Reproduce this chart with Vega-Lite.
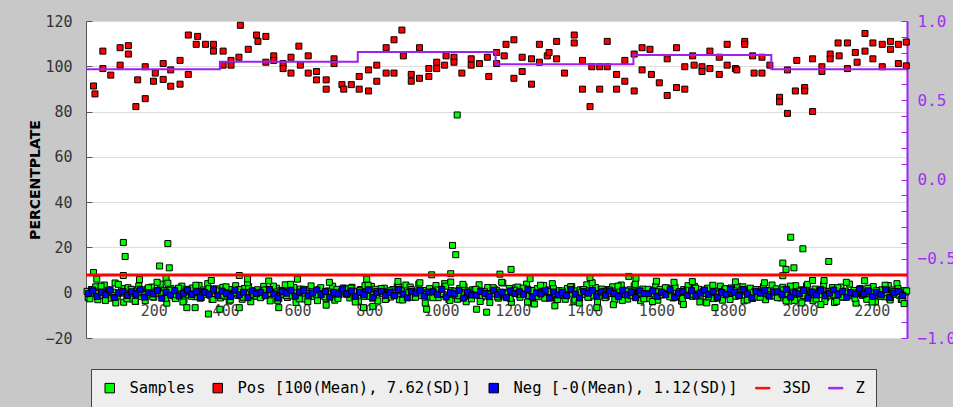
{
"$schema": "https://vega.github.io/schema/vega-lite/v6.json",
"width": 821, "height": 317,
"autosize": {"type": "none"},
"padding": {"left": 86, "top": 21, "right": 46, "bottom": 69},
"background": "#c8c8c8",
"config": {"view": {"stroke": null, "fill": "#ffffff"}},
"datasets": {
"samples": [
{"x":14,"y":0.6},{"x":20,"y":-1.9},{"x":26,"y":1.4},{"x":32,"y":-0.3},{"x":38,"y":2.6},{"x":44,"y":-3.1},{"x":50,"y":0.9},{"x":56,"y":-1.2},{"x":62,"y":3.4},{"x":68,"y":-0.6},
{"x":74,"y":1.1},{"x":80,"y":-2.4},{"x":86,"y":0.2},{"x":92,"y":4.3},{"x":98,"y":-1.5},{"x":104,"y":-0.1},{"x":110,"y":1.9},{"x":116,"y":-4.2},{"x":122,"y":0.5},{"x":128,"y":2.2},
{"x":134,"y":-1.0},{"x":140,"y":-2.8},{"x":146,"y":1.3},{"x":152,"y":-0.4},{"x":158,"y":3.0},{"x":164,"y":-1.7},{"x":170,"y":0.3},{"x":176,"y":-3.5},{"x":182,"y":1.6},{"x":188,"y":-0.8},
{"x":194,"y":2.5},{"x":200,"y":-2.0},{"x":206,"y":0.7},{"x":212,"y":-0.2},{"x":218,"y":3.8},{"x":224,"y":-1.3},{"x":230,"y":1.0},{"x":236,"y":-4.6},{"x":242,"y":0.1},{"x":248,"y":1.8},
{"x":254,"y":-1.4},{"x":260,"y":-2.6},{"x":266,"y":0.8},{"x":272,"y":-0.5},{"x":278,"y":2.9},{"x":284,"y":-3.3},{"x":290,"y":1.5},{"x":296,"y":-0.9},{"x":302,"y":0.4},{"x":308,"y":2.1},
{"x":314,"y":-1.8},{"x":320,"y":0.0},{"x":326,"y":3.2},{"x":332,"y":-2.2},{"x":338,"y":1.2},{"x":344,"y":-0.7},{"x":350,"y":4.0},{"x":356,"y":-1.1},{"x":362,"y":-3.0},{"x":368,"y":0.9},
{"x":374,"y":1.7},{"x":380,"y":-0.4},{"x":386,"y":-2.3},{"x":392,"y":2.4},{"x":398,"y":-1.6},{"x":404,"y":0.5},{"x":410,"y":-3.7},{"x":416,"y":1.4},{"x":422,"y":-0.2},{"x":428,"y":3.1},
{"x":434,"y":-1.2},{"x":440,"y":0.3},{"x":446,"y":-2.9},{"x":452,"y":1.9},{"x":458,"y":-0.6},{"x":464,"y":2.7},{"x":470,"y":-4.0},{"x":476,"y":0.8},{"x":482,"y":-1.5},{"x":488,"y":1.3},
{"x":494,"y":0.2},{"x":500,"y":-1.6},{"x":506,"y":2.8},{"x":512,"y":-0.9},{"x":518,"y":1.5},{"x":524,"y":-3.6},{"x":530,"y":0.4},{"x":536,"y":-0.3},{"x":542,"y":2.0},{"x":548,"y":-2.5},
{"x":554,"y":1.0},{"x":560,"y":-0.8},{"x":566,"y":3.5},{"x":572,"y":-2.1},{"x":578,"y":0.6},{"x":584,"y":-1.4},{"x":590,"y":2.3},{"x":596,"y":-4.3},{"x":602,"y":-0.5},{"x":608,"y":1.6},
{"x":614,"y":-1.0},{"x":620,"y":-2.8},{"x":626,"y":1.3},{"x":632,"y":-0.4},{"x":638,"y":3.0},{"x":644,"y":-1.7},{"x":650,"y":0.3},{"x":656,"y":-3.5},{"x":662,"y":1.6},{"x":668,"y":-0.8},
{"x":674,"y":-1.4},{"x":680,"y":-2.6},{"x":686,"y":0.8},{"x":692,"y":-0.5},{"x":698,"y":2.9},{"x":704,"y":-3.3},{"x":710,"y":1.5},{"x":716,"y":-0.9},{"x":722,"y":0.4},{"x":728,"y":2.1},
{"x":734,"y":1.7},{"x":740,"y":-0.4},{"x":746,"y":-2.3},{"x":752,"y":2.4},{"x":758,"y":-1.6},{"x":764,"y":0.5},{"x":770,"y":-3.7},{"x":776,"y":1.4},{"x":782,"y":-0.2},{"x":788,"y":3.1},
{"x":794,"y":0.2},{"x":800,"y":-1.6},{"x":806,"y":2.8},{"x":812,"y":-0.9},{"x":818,"y":1.5},{"x":824,"y":-3.6},{"x":830,"y":0.4},{"x":836,"y":-0.3},{"x":842,"y":2.0},{"x":848,"y":-2.5},
{"x":854,"y":0.6},{"x":860,"y":-1.9},{"x":866,"y":1.4},{"x":872,"y":-0.3},{"x":878,"y":2.6},{"x":884,"y":-3.1},{"x":890,"y":0.9},{"x":896,"y":-1.2},{"x":902,"y":3.4},{"x":908,"y":-0.6},
{"x":914,"y":2.5},{"x":920,"y":-2.0},{"x":926,"y":0.7},{"x":932,"y":-0.2},{"x":938,"y":3.8},{"x":944,"y":-1.3},{"x":950,"y":1.0},{"x":956,"y":-4.6},{"x":962,"y":0.1},{"x":968,"y":1.8},
{"x":974,"y":-1.8},{"x":980,"y":0.0},{"x":986,"y":3.2},{"x":992,"y":-2.2},{"x":998,"y":1.2},{"x":1004,"y":-0.7},{"x":1010,"y":4.0},{"x":1016,"y":-1.1},{"x":1022,"y":-3.0},{"x":1028,"y":0.9},
{"x":1034,"y":-1.2},{"x":1040,"y":0.3},{"x":1046,"y":-2.9},{"x":1052,"y":1.9},{"x":1058,"y":-0.6},{"x":1064,"y":2.7},{"x":1070,"y":-4.0},{"x":1076,"y":0.8},{"x":1082,"y":-1.5},{"x":1088,"y":1.3},
{"x":1094,"y":1.0},{"x":1100,"y":-0.8},{"x":1106,"y":3.5},{"x":1112,"y":-2.1},{"x":1118,"y":0.6},{"x":1124,"y":-1.4},{"x":1130,"y":2.3},{"x":1136,"y":-4.3},{"x":1142,"y":-0.5},{"x":1148,"y":1.6},
{"x":1154,"y":1.1},{"x":1160,"y":-2.4},{"x":1166,"y":0.2},{"x":1172,"y":4.3},{"x":1178,"y":-1.5},{"x":1184,"y":-0.1},{"x":1190,"y":1.9},{"x":1196,"y":-4.2},{"x":1202,"y":0.5},{"x":1208,"y":2.2},
{"x":1214,"y":2.5},{"x":1220,"y":-2.0},{"x":1226,"y":0.7},{"x":1232,"y":-0.2},{"x":1238,"y":3.8},{"x":1244,"y":-1.3},{"x":1250,"y":1.0},{"x":1256,"y":-4.6},{"x":1262,"y":0.1},{"x":1268,"y":1.8},
{"x":1274,"y":-1.8},{"x":1280,"y":0.0},{"x":1286,"y":3.2},{"x":1292,"y":-2.2},{"x":1298,"y":1.2},{"x":1304,"y":-0.7},{"x":1310,"y":4.0},{"x":1316,"y":-1.1},{"x":1322,"y":-3.0},{"x":1328,"y":0.9},
{"x":1334,"y":-1.2},{"x":1340,"y":0.3},{"x":1346,"y":-2.9},{"x":1352,"y":1.9},{"x":1358,"y":-0.6},{"x":1364,"y":2.7},{"x":1370,"y":-4.0},{"x":1376,"y":0.8},{"x":1382,"y":-1.5},{"x":1388,"y":1.3},
{"x":1394,"y":1.0},{"x":1400,"y":-0.8},{"x":1406,"y":3.5},{"x":1412,"y":-2.1},{"x":1418,"y":0.6},{"x":1424,"y":-1.4},{"x":1430,"y":2.3},{"x":1436,"y":-4.3},{"x":1442,"y":-0.5},{"x":1448,"y":1.6},
{"x":1454,"y":0.6},{"x":1460,"y":-1.9},{"x":1466,"y":1.4},{"x":1472,"y":-0.3},{"x":1478,"y":2.6},{"x":1484,"y":-3.1},{"x":1490,"y":0.9},{"x":1496,"y":-1.2},{"x":1502,"y":3.4},{"x":1508,"y":-0.6},
{"x":1514,"y":-1.0},{"x":1520,"y":-2.8},{"x":1526,"y":1.3},{"x":1532,"y":-0.4},{"x":1538,"y":3.0},{"x":1544,"y":-1.7},{"x":1550,"y":0.3},{"x":1556,"y":-3.5},{"x":1562,"y":1.6},{"x":1568,"y":-0.8},
{"x":1574,"y":-1.4},{"x":1580,"y":-2.6},{"x":1586,"y":0.8},{"x":1592,"y":-0.5},{"x":1598,"y":2.9},{"x":1604,"y":-3.3},{"x":1610,"y":1.5},{"x":1616,"y":-0.9},{"x":1622,"y":0.4},{"x":1628,"y":2.1},
{"x":1634,"y":1.7},{"x":1640,"y":-0.4},{"x":1646,"y":-2.3},{"x":1652,"y":2.4},{"x":1658,"y":-1.6},{"x":1664,"y":0.5},{"x":1670,"y":-3.7},{"x":1676,"y":1.4},{"x":1682,"y":-0.2},{"x":1688,"y":3.1},
{"x":1694,"y":0.2},{"x":1700,"y":-1.6},{"x":1706,"y":2.8},{"x":1712,"y":-0.9},{"x":1718,"y":1.5},{"x":1724,"y":-3.6},{"x":1730,"y":0.4},{"x":1736,"y":-0.3},{"x":1742,"y":2.0},{"x":1748,"y":-2.5},
{"x":1754,"y":-1.4},{"x":1760,"y":-2.6},{"x":1766,"y":0.8},{"x":1772,"y":-0.5},{"x":1778,"y":2.9},{"x":1784,"y":-3.3},{"x":1790,"y":1.5},{"x":1796,"y":-0.9},{"x":1802,"y":0.4},{"x":1808,"y":2.1},
{"x":1814,"y":0.2},{"x":1820,"y":-1.6},{"x":1826,"y":2.8},{"x":1832,"y":-0.9},{"x":1838,"y":1.5},{"x":1844,"y":-3.6},{"x":1850,"y":0.4},{"x":1856,"y":-0.3},{"x":1862,"y":2.0},{"x":1868,"y":-2.5},
{"x":1874,"y":0.6},{"x":1880,"y":-1.9},{"x":1886,"y":1.4},{"x":1892,"y":-0.3},{"x":1898,"y":2.6},{"x":1904,"y":-3.1},{"x":1910,"y":0.9},{"x":1916,"y":-1.2},{"x":1922,"y":3.4},{"x":1928,"y":-0.6},
{"x":1934,"y":1.7},{"x":1940,"y":-0.4},{"x":1946,"y":-2.3},{"x":1952,"y":2.4},{"x":1958,"y":-1.6},{"x":1964,"y":0.5},{"x":1970,"y":-3.7},{"x":1976,"y":1.4},{"x":1982,"y":-0.2},{"x":1988,"y":3.1},
{"x":1994,"y":-1.0},{"x":2000,"y":-2.8},{"x":2006,"y":1.3},{"x":2012,"y":-0.4},{"x":2018,"y":3.0},{"x":2024,"y":-1.7},{"x":2030,"y":0.3},{"x":2036,"y":-3.5},{"x":2042,"y":1.6},{"x":2048,"y":-0.8},
{"x":2054,"y":1.0},{"x":2060,"y":-0.8},{"x":2066,"y":3.5},{"x":2072,"y":-2.1},{"x":2078,"y":0.6},{"x":2084,"y":-1.4},{"x":2090,"y":2.3},{"x":2096,"y":-4.3},{"x":2102,"y":-0.5},{"x":2108,"y":1.6},
{"x":2114,"y":2.5},{"x":2120,"y":-2.0},{"x":2126,"y":0.7},{"x":2132,"y":-0.2},{"x":2138,"y":3.8},{"x":2144,"y":-1.3},{"x":2150,"y":1.0},{"x":2156,"y":-4.6},{"x":2162,"y":0.1},{"x":2168,"y":1.8},
{"x":2174,"y":-1.2},{"x":2180,"y":0.3},{"x":2186,"y":-2.9},{"x":2192,"y":1.9},{"x":2198,"y":-0.6},{"x":2204,"y":2.7},{"x":2210,"y":-4.0},{"x":2216,"y":0.8},{"x":2222,"y":-1.5},{"x":2228,"y":1.3},
{"x":2234,"y":-1.8},{"x":2240,"y":0.0},{"x":2246,"y":3.2},{"x":2252,"y":-2.2},{"x":2258,"y":1.2},{"x":2264,"y":-0.7},{"x":2270,"y":4.0},{"x":2276,"y":-1.1},{"x":2282,"y":-3.0},{"x":2288,"y":0.9},
{"x":2294,"y":0.3},
{"x":17,"y":-2.2},{"x":29,"y":1.2},{"x":41,"y":-0.4},{"x":53,"y":2.9},{"x":65,"y":-3.4},{"x":77,"y":0.7},{"x":89,"y":-1.3},{"x":101,"y":3.7},{"x":113,"y":-0.1},{"x":125,"y":-2.7},
{"x":137,"y":1.5},{"x":149,"y":-3.9},{"x":161,"y":0.4},{"x":173,"y":-0.9},{"x":185,"y":2.2},{"x":197,"y":-1.8},{"x":209,"y":4.6},{"x":221,"y":-0.5},{"x":233,"y":-2.5},{"x":245,"y":1.1},
{"x":257,"y":-0.7},{"x":269,"y":2.0},{"x":281,"y":-4.1},{"x":293,"y":0.9},{"x":305,"y":-1.6},{"x":317,"y":3.3},{"x":329,"y":-2.4},{"x":341,"y":0.5},{"x":353,"y":1.8},{"x":365,"y":-3.0},
{"x":377,"y":0.8},{"x":389,"y":-1.1},{"x":401,"y":2.6},{"x":413,"y":-3.2},{"x":425,"y":0.0},{"x":437,"y":1.4},{"x":449,"y":-2.0},{"x":461,"y":4.4},{"x":473,"y":-0.8},{"x":485,"y":-1.5},
{"x":497,"y":-2.2},{"x":509,"y":1.2},{"x":521,"y":-0.4},{"x":533,"y":2.9},{"x":545,"y":-3.4},{"x":557,"y":0.7},{"x":569,"y":-1.3},{"x":581,"y":3.7},{"x":593,"y":-0.1},{"x":605,"y":-2.7},
{"x":617,"y":1.5},{"x":629,"y":-3.9},{"x":641,"y":0.4},{"x":653,"y":-0.9},{"x":665,"y":2.2},{"x":677,"y":-1.8},{"x":689,"y":4.6},{"x":701,"y":-0.5},{"x":713,"y":-2.5},{"x":725,"y":1.1},
{"x":737,"y":-0.7},{"x":749,"y":2.0},{"x":761,"y":-4.1},{"x":773,"y":0.9},{"x":785,"y":-1.6},{"x":797,"y":3.3},{"x":809,"y":-2.4},{"x":821,"y":0.5},{"x":833,"y":1.8},{"x":845,"y":-3.0},
{"x":857,"y":0.8},{"x":869,"y":-1.1},{"x":881,"y":2.6},{"x":893,"y":-3.2},{"x":905,"y":0.0},{"x":917,"y":1.4},{"x":929,"y":-2.0},{"x":941,"y":4.4},{"x":953,"y":-0.8},{"x":965,"y":-1.5},
{"x":977,"y":-2.2},{"x":989,"y":1.2},{"x":1001,"y":-0.4},{"x":1013,"y":2.9},{"x":1025,"y":-3.4},{"x":1037,"y":0.7},{"x":1049,"y":-1.3},{"x":1061,"y":3.7},{"x":1073,"y":-0.1},{"x":1085,"y":-2.7},
{"x":1097,"y":1.5},{"x":1109,"y":-3.9},{"x":1121,"y":0.4},{"x":1133,"y":-0.9},{"x":1145,"y":2.2},{"x":1157,"y":-1.8},{"x":1169,"y":4.6},{"x":1181,"y":-0.5},{"x":1193,"y":-2.5},{"x":1205,"y":1.1},
{"x":1217,"y":-0.7},{"x":1229,"y":2.0},{"x":1241,"y":-4.1},{"x":1253,"y":0.9},{"x":1265,"y":-1.6},{"x":1277,"y":3.3},{"x":1289,"y":-2.4},{"x":1301,"y":0.5},{"x":1313,"y":1.8},{"x":1325,"y":-3.0},
{"x":1337,"y":0.8},{"x":1349,"y":-1.1},{"x":1361,"y":2.6},{"x":1373,"y":-3.2},{"x":1385,"y":0.0},{"x":1397,"y":1.4},{"x":1409,"y":-2.0},{"x":1421,"y":4.4},{"x":1433,"y":-0.8},{"x":1445,"y":-1.5},
{"x":1457,"y":-2.2},{"x":1469,"y":1.2},{"x":1481,"y":-0.4},{"x":1493,"y":2.9},{"x":1505,"y":-3.4},{"x":1517,"y":0.7},{"x":1529,"y":-1.3},{"x":1541,"y":3.7},{"x":1553,"y":-0.1},{"x":1565,"y":-2.7},
{"x":1577,"y":1.5},{"x":1589,"y":-3.9},{"x":1601,"y":0.4},{"x":1613,"y":-0.9},{"x":1625,"y":2.2},{"x":1637,"y":-1.8},{"x":1649,"y":4.6},{"x":1661,"y":-0.5},{"x":1673,"y":-2.5},{"x":1685,"y":1.1},
{"x":1697,"y":-0.7},{"x":1709,"y":2.0},{"x":1721,"y":-4.1},{"x":1733,"y":0.9},{"x":1745,"y":-1.6},{"x":1757,"y":3.3},{"x":1769,"y":-2.4},{"x":1781,"y":0.5},{"x":1793,"y":1.8},{"x":1805,"y":-3.0},
{"x":1817,"y":0.8},{"x":1829,"y":-1.1},{"x":1841,"y":2.6},{"x":1853,"y":-3.2},{"x":1865,"y":0.0},{"x":1877,"y":1.4},{"x":1889,"y":-2.0},{"x":1901,"y":4.4},{"x":1913,"y":-0.8},{"x":1925,"y":-1.5},
{"x":1937,"y":-2.2},{"x":1949,"y":1.2},{"x":1961,"y":-0.4},{"x":1973,"y":2.9},{"x":1985,"y":-3.4},{"x":1997,"y":0.7},{"x":2009,"y":-1.3},{"x":2021,"y":3.7},{"x":2033,"y":-0.1},{"x":2045,"y":-2.7},
{"x":2057,"y":1.5},{"x":2069,"y":-3.9},{"x":2081,"y":0.4},{"x":2093,"y":-0.9},{"x":2105,"y":2.2},{"x":2117,"y":-1.8},{"x":2129,"y":4.6},{"x":2141,"y":-0.5},{"x":2153,"y":-2.5},{"x":2165,"y":1.1},
{"x":2177,"y":-0.7},{"x":2189,"y":2.0},{"x":2201,"y":-4.1},{"x":2213,"y":0.9},{"x":2225,"y":-1.6},{"x":2237,"y":3.3},{"x":2249,"y":-2.4},{"x":2261,"y":0.5},{"x":2273,"y":1.8},{"x":2285,"y":-3.0},
{"x":2297,"y":0.8},
{"x":115,"y":22.2},{"x":120,"y":16.0},{"x":115,"y":7.6},{"x":32,"y":8.9},{"x":41,"y":6.0},{"x":239,"y":21.7},{"x":216,"y":11.8},{"x":243,"y":11.0},{"x":234,"y":6.4},{"x":239,"y":4.2},
{"x":438,"y":7.6},{"x":461,"y":6.1},{"x":1032,"y":20.9},{"x":1041,"y":16.8},{"x":1027,"y":8.4},{"x":974,"y":7.9},{"x":1027,"y":4.7},{"x":793,"y":6.0},{"x":600,"y":6.0},{"x":352,"y":-9.4},
{"x":292,"y":-6.6},{"x":315,"y":-6.6},{"x":384,"y":-7.3},{"x":438,"y":-6.6},{"x":548,"y":-6.6},{"x":960,"y":-7.3},{"x":1127,"y":-8.6},{"x":1099,"y":-7.3},{"x":784,"y":-6.6},{"x":810,"y":-6.0},
{"x":94,"y":-4.5},{"x":22,"y":-2.7},{"x":148,"y":-3.8},{"x":1974,"y":24.5},{"x":2008,"y":19.4},{"x":2080,"y":13.8},{"x":1952,"y":13.1},{"x":1961,"y":10.3},{"x":1983,"y":11.0},{"x":1952,"y":7.5},
{"x":1164,"y":8.2},{"x":1195,"y":10.3},{"x":1415,"y":6.7},{"x":1248,"y":6.2},{"x":1523,"y":7.2},{"x":1543,"y":6.4},{"x":2035,"y":5.4},{"x":2067,"y":5.4},{"x":1317,"y":-5.8},{"x":1385,"y":-4.5},
{"x":1434,"y":-6.6},{"x":1675,"y":-5.2},{"x":1740,"y":-4.5},{"x":1763,"y":-6.6},{"x":2005,"y":-4.5},{"x":2058,"y":-5.2},{"x":2251,"y":-3.2},{"x":1961,"y":-3.6},{"x":2102,"y":-3.8},{"x":1045,"y":78.5},
{"x":520,"y":5.2},{"x":680,"y":-5.5},{"x":880,"y":5.0},{"x":1260,"y":-5.0},{"x":1600,"y":5.1},{"x":1820,"y":4.8},{"x":2180,"y":5.3},{"x":2290,"y":-4.8},{"x":1700,"y":4.9},{"x":1480,"y":-5.3},{"x":360,"y":5.4},{"x":160,"y":5.8}
],
"pos": [
{"x":32,"y":91.3},{"x":36,"y":87.8},{"x":58,"y":106.7},{"x":58,"y":99.0},{"x":80,"y":96.1},{"x":106,"y":108.2},{"x":106,"y":100.5},{"x":129,"y":109.1},{"x":129,"y":105.4},{"x":150,"y":82.2},
{"x":155,"y":94.0},{"x":176,"y":99.8},{"x":176,"y":85.7},{"x":199,"y":93.4},{"x":204,"y":97.0},{"x":226,"y":101.2},{"x":226,"y":94.2},{"x":247,"y":98.4},{"x":247,"y":91.2},{"x":273,"y":102.6},
{"x":273,"y":92.1},{"x":296,"y":113.8},{"x":296,"y":96.4},{"x":318,"y":109.7},{"x":322,"y":113.2},{"x":344,"y":109.7},{"x":366,"y":109.7},{"x":366,"y":106.7},{"x":393,"y":106.7},{"x":393,"y":100.5},
{"x":415,"y":102.6},{"x":415,"y":100.5},{"x":441,"y":118.1},{"x":437,"y":104.0},{"x":463,"y":107.5},{"x":486,"y":113.8},{"x":490,"y":111.0},{"x":512,"y":113.2},{"x":512,"y":101.8},{"x":534,"y":104.6},
{"x":534,"y":102.6},{"x":560,"y":101.2},{"x":560,"y":99.0},{"x":582,"y":104.0},{"x":582,"y":97.0},{"x":604,"y":108.9},{"x":608,"y":100.5},{"x":630,"y":104.6},{"x":630,"y":97.0},{"x":653,"y":97.7},
{"x":653,"y":94.0},{"x":680,"y":94.0},{"x":680,"y":89.9},{"x":702,"y":103.3},{"x":702,"y":101.2},{"x":724,"y":91.9},{"x":729,"y":89.9},{"x":750,"y":91.9},{"x":772,"y":95.5},{"x":772,"y":89.9},
{"x":798,"y":89.1},{"x":798,"y":98.4},{"x":821,"y":100.5},{"x":821,"y":93.4},{"x":847,"y":108.2},{"x":847,"y":97.0},{"x":869,"y":111.7},{"x":869,"y":97.0},{"x":891,"y":116.0},{"x":895,"y":104.6},
{"x":917,"y":96.4},{"x":917,"y":93.4},{"x":940,"y":108.2},{"x":940,"y":94.7},{"x":966,"y":99.0},{"x":966,"y":95.5},{"x":988,"y":101.8},{"x":988,"y":99.0},{"x":1010,"y":100.5},{"x":1014,"y":104.6},
{"x":1036,"y":104.0},{"x":1036,"y":101.8},{"x":1058,"y":97.0},{"x":1084,"y":103.3},{"x":1084,"y":100.5},{"x":1107,"y":101.2},{"x":1129,"y":104.0},{"x":1133,"y":95.5},{"x":1155,"y":106.1},{"x":1155,"y":101.2},
{"x":1176,"y":104.6},{"x":1181,"y":109.7},{"x":1203,"y":111.7},{"x":1203,"y":94.7},{"x":1226,"y":104.0},{"x":1226,"y":97.7},{"x":1252,"y":103.3},{"x":1252,"y":92.1},{"x":1274,"y":109.7},{"x":1274,"y":101.8},
{"x":1296,"y":104.6},{"x":1301,"y":106.1},{"x":1322,"y":111.0},{"x":1322,"y":103.3},{"x":1344,"y":97.0},{"x":1371,"y":113.8},{"x":1371,"y":110.3},{"x":1394,"y":102.6},{"x":1394,"y":89.9},{"x":1415,"y":82.2},
{"x":1420,"y":99.8},{"x":1442,"y":99.8},{"x":1442,"y":89.9},{"x":1463,"y":111.0},{"x":1463,"y":99.8},{"x":1489,"y":96.4},{"x":1489,"y":89.9},{"x":1512,"y":102.6},{"x":1512,"y":93.4},{"x":1538,"y":89.1},
{"x":1538,"y":105.4},{"x":1560,"y":108.2},{"x":1560,"y":98.4},{"x":1582,"y":107.5},{"x":1586,"y":96.4},{"x":1608,"y":92.7},{"x":1630,"y":103.3},{"x":1630,"y":87.1},{"x":1656,"y":108.2},{"x":1656,"y":90.6},
{"x":1679,"y":99.8},{"x":1679,"y":89.9},{"x":1701,"y":104.6},{"x":1705,"y":100.5},{"x":1727,"y":99.8},{"x":1727,"y":97.7},{"x":1749,"y":106.7},{"x":1749,"y":99.0},{"x":1775,"y":104.0},{"x":1775,"y":96.4},
{"x":1797,"y":109.7},{"x":1797,"y":100.5},{"x":1820,"y":99.0},{"x":1824,"y":98.4},{"x":1846,"y":111.0},{"x":1846,"y":109.7},{"x":1868,"y":104.6},{"x":1872,"y":97.0},{"x":1894,"y":104.0},{"x":1894,"y":97.0},
{"x":1916,"y":100.5},{"x":1943,"y":86.3},{"x":1943,"y":84.3},{"x":1965,"y":98.4},{"x":1965,"y":79.2},{"x":1987,"y":89.1},{"x":1991,"y":102.6},{"x":2013,"y":90.6},{"x":2013,"y":89.1},{"x":2035,"y":103.3},
{"x":2035,"y":80.0},{"x":2061,"y":99.8},{"x":2061,"y":97.7},{"x":2084,"y":105.4},{"x":2084,"y":103.3},{"x":2109,"y":104.6},{"x":2106,"y":110.3},{"x":2132,"y":110.3},{"x":2132,"y":99.0},{"x":2154,"y":106.1},
{"x":2159,"y":101.8},{"x":2181,"y":114.5},{"x":2181,"y":106.7},{"x":2203,"y":110.3},{"x":2203,"y":103.3},{"x":2229,"y":109.7},{"x":2229,"y":99.8},{"x":2252,"y":111.0},{"x":2252,"y":107.5},{"x":2274,"y":109.7},
{"x":2274,"y":101.2},{"x":2296,"y":110.7},{"x":2296,"y":100.2}
],
"neg": [
{"x":18,"y":-0.4},{"x":30,"y":0.8},{"x":42,"y":-1.6},{"x":54,"y":0.2},{"x":66,"y":-0.9},{"x":78,"y":1.3},{"x":90,"y":-2.1},{"x":102,"y":-0.1},{"x":114,"y":0.6},{"x":126,"y":-1.2},
{"x":138,"y":0.4},{"x":150,"y":-0.7},{"x":162,"y":1.5},{"x":174,"y":-1.9},{"x":186,"y":0.0},{"x":198,"y":-0.5},{"x":210,"y":1.0},{"x":222,"y":-2.4},{"x":234,"y":0.3},{"x":246,"y":-1.0},
{"x":258,"y":0.9},{"x":270,"y":-1.4},{"x":282,"y":-0.2},{"x":294,"y":1.2},{"x":306,"y":-0.8},{"x":318,"y":0.5},{"x":330,"y":-2.0},{"x":342,"y":0.1},{"x":354,"y":-0.6},{"x":366,"y":1.6},
{"x":378,"y":-1.1},{"x":390,"y":0.7},{"x":402,"y":-0.3},{"x":414,"y":-1.7},{"x":426,"y":1.1},{"x":438,"y":-0.9},{"x":450,"y":0.2},{"x":462,"y":-2.2},{"x":474,"y":0.8},{"x":486,"y":-0.4},
{"x":498,"y":0.1},{"x":510,"y":-1.3},{"x":522,"y":1.4},{"x":534,"y":-0.6},{"x":546,"y":-2.3},{"x":558,"y":0.6},{"x":570,"y":-0.2},{"x":582,"y":1.0},{"x":594,"y":-1.5},{"x":606,"y":0.3},
{"x":618,"y":0.9},{"x":630,"y":-1.4},{"x":642,"y":-0.2},{"x":654,"y":1.2},{"x":666,"y":-0.8},{"x":678,"y":0.5},{"x":690,"y":-2.0},{"x":702,"y":0.1},{"x":714,"y":-0.6},{"x":726,"y":1.6},
{"x":738,"y":-0.4},{"x":750,"y":0.8},{"x":762,"y":-1.6},{"x":774,"y":0.2},{"x":786,"y":-0.9},{"x":798,"y":1.3},{"x":810,"y":-2.1},{"x":822,"y":-0.1},{"x":834,"y":0.6},{"x":846,"y":-1.2},
{"x":858,"y":0.1},{"x":870,"y":-1.3},{"x":882,"y":1.4},{"x":894,"y":-0.6},{"x":906,"y":-2.3},{"x":918,"y":0.6},{"x":930,"y":-0.2},{"x":942,"y":1.0},{"x":954,"y":-1.5},{"x":966,"y":0.3},
{"x":978,"y":0.4},{"x":990,"y":-0.7},{"x":1002,"y":1.5},{"x":1014,"y":-1.9},{"x":1026,"y":0.0},{"x":1038,"y":-0.5},{"x":1050,"y":1.0},{"x":1062,"y":-2.4},{"x":1074,"y":0.3},{"x":1086,"y":-1.0},
{"x":1098,"y":-1.1},{"x":1110,"y":0.7},{"x":1122,"y":-0.3},{"x":1134,"y":-1.7},{"x":1146,"y":1.1},{"x":1158,"y":-0.9},{"x":1170,"y":0.2},{"x":1182,"y":-2.2},{"x":1194,"y":0.8},{"x":1206,"y":-0.4},
{"x":1218,"y":0.4},{"x":1230,"y":-0.7},{"x":1242,"y":1.5},{"x":1254,"y":-1.9},{"x":1266,"y":0.0},{"x":1278,"y":-0.5},{"x":1290,"y":1.0},{"x":1302,"y":-2.4},{"x":1314,"y":0.3},{"x":1326,"y":-1.0},
{"x":1338,"y":0.1},{"x":1350,"y":-1.3},{"x":1362,"y":1.4},{"x":1374,"y":-0.6},{"x":1386,"y":-2.3},{"x":1398,"y":0.6},{"x":1410,"y":-0.2},{"x":1422,"y":1.0},{"x":1434,"y":-1.5},{"x":1446,"y":0.3},
{"x":1458,"y":-1.1},{"x":1470,"y":0.7},{"x":1482,"y":-0.3},{"x":1494,"y":-1.7},{"x":1506,"y":1.1},{"x":1518,"y":-0.9},{"x":1530,"y":0.2},{"x":1542,"y":-2.2},{"x":1554,"y":0.8},{"x":1566,"y":-0.4},
{"x":1578,"y":-0.4},{"x":1590,"y":0.8},{"x":1602,"y":-1.6},{"x":1614,"y":0.2},{"x":1626,"y":-0.9},{"x":1638,"y":1.3},{"x":1650,"y":-2.1},{"x":1662,"y":-0.1},{"x":1674,"y":0.6},{"x":1686,"y":-1.2},
{"x":1698,"y":0.9},{"x":1710,"y":-1.4},{"x":1722,"y":-0.2},{"x":1734,"y":1.2},{"x":1746,"y":-0.8},{"x":1758,"y":0.5},{"x":1770,"y":-2.0},{"x":1782,"y":0.1},{"x":1794,"y":-0.6},{"x":1806,"y":1.6},
{"x":1818,"y":0.1},{"x":1830,"y":-1.3},{"x":1842,"y":1.4},{"x":1854,"y":-0.6},{"x":1866,"y":-2.3},{"x":1878,"y":0.6},{"x":1890,"y":-0.2},{"x":1902,"y":1.0},{"x":1914,"y":-1.5},{"x":1926,"y":0.3},
{"x":1938,"y":0.4},{"x":1950,"y":-0.7},{"x":1962,"y":1.5},{"x":1974,"y":-1.9},{"x":1986,"y":0.0},{"x":1998,"y":-0.5},{"x":2010,"y":1.0},{"x":2022,"y":-2.4},{"x":2034,"y":0.3},{"x":2046,"y":-1.0},
{"x":2058,"y":0.9},{"x":2070,"y":-1.4},{"x":2082,"y":-0.2},{"x":2094,"y":1.2},{"x":2106,"y":-0.8},{"x":2118,"y":0.5},{"x":2130,"y":-2.0},{"x":2142,"y":0.1},{"x":2154,"y":-0.6},{"x":2166,"y":1.6},
{"x":2178,"y":-0.4},{"x":2190,"y":0.8},{"x":2202,"y":-1.6},{"x":2214,"y":0.2},{"x":2226,"y":-0.9},{"x":2238,"y":1.3},{"x":2250,"y":-2.1},{"x":2262,"y":-0.1},{"x":2274,"y":0.6},{"x":2286,"y":-1.2}
],
"sd": [{"y": 7.8}],
"z": [{"x":11,"z":0.695},{"x":384,"z":0.743},{"x":768,"z":0.804},{"x":1152,"z":0.727},{"x":1536,"z":0.785},{"x":1920,"z":0.695},{"x":2298,"z":0.695}]
},
"layer": [
{"layer": [
{"data": {"name": "samples"},
 "mark": {"type": "point", "filled": true, "size": 36, "strokeWidth": 1, "opacity": 1},
 "encoding": {
  "x": {"field": "x", "type": "quantitative", "scale": {"domain": [11, 2298], "nice": false, "zero": false},
        "axis": {"title": null, "format": "d", "values": [200,400,600,800,1000,1200,1400,1600,1800,2000,2200], "offset": -45.3, "domain": false, "ticks": false, "grid": false, "labelPadding": 11, "labelFont": "DejaVu Sans Mono", "labelFontSize": 15, "labelColor": "#444444", "labelFlush": false}},
  "y": {"field": "y", "type": "quantitative", "scale": {"domain": [-20, 120], "nice": false, "zero": false},
        "axis": {"title": "PERCENTPLATE", "titleFont": "DejaVu Sans", "titleFontSize": 14, "titleFontWeight": "bold", "titleColor": "#000000", "titlePadding": 2,
                 "values": [-20,-10,0,10,20,30,40,50,60,70,80,90,100,110,120],
                 "labelExpr": "datum.value % 20 === 0 ? datum.label : ''", "labelOverlap": false,
                 "grid": true, "gridColor": {"condition": {"test": "datum.value % 20 !== 0", "value": "rgba(0,0,0,0)"}, "value": "#dddddd"},
                 "tickSize": -6, "tickColor": "#555555", "domainColor": "#555555", "labelPadding": 20,
                 "labelFont": "DejaVu Sans Mono", "labelFontSize": 15, "labelColor": "#333333"}},
  "fill": {"datum": "Samples", "type": "nominal",
           "scale": {"domain": ["Samples", "Pos [100(Mean), 7.62(SD)]", "Neg [-0(Mean), 1.12(SD)]", "3SD", "Z"], "range": ["#00ff00", "#ff0000", "#0000ff", "#ff0000", "#a020f0"]},
           "legend": {"orient": "none", "legendX": 5, "legendY": 348, "direction": "horizontal", "columns": 5, "title": null,
                      "fillColor": "#eeeeee", "strokeColor": "#444444", "padding": 11,
                      "labelFont": "DejaVu Sans Mono", "labelFontSize": 15.5, "labelColor": "#000000", "labelLimit": 400,
                      "symbolSize": 90, "labelOffset": 12, "columnPadding": 15, "symbolStrokeWidth": 1}},
  "stroke": {"datum": "Samples", "type": "nominal",
           "scale": {"domain": ["Samples", "Pos [100(Mean), 7.62(SD)]", "Neg [-0(Mean), 1.12(SD)]", "3SD", "Z"], "range": ["#000000", "#000000", "#000000", "#ff0000", "#a020f0"]}},
  "shape": {"datum": "Samples", "type": "nominal",
           "scale": {"domain": ["Samples", "Pos [100(Mean), 7.62(SD)]", "Neg [-0(Mean), 1.12(SD)]", "3SD", "Z"], "range": ["square", "square", "square", "M-1.5,-0.16H1.5V0.16H-1.5Z", "M-1.5,-0.16H1.5V0.16H-1.5Z"]}}
 }},
{"data": {"name": "pos"},
 "mark": {"type": "point", "filled": true, "size": 36, "strokeWidth": 1, "opacity": 1},
 "encoding": {
  "x": {"field": "x", "type": "quantitative"},
  "y": {"field": "y", "type": "quantitative"},
  "fill": {"datum": "Pos [100(Mean), 7.62(SD)]", "type": "nominal"},
  "stroke": {"datum": "Pos [100(Mean), 7.62(SD)]", "type": "nominal"},
  "shape": {"datum": "Pos [100(Mean), 7.62(SD)]", "type": "nominal"}
 }},
{"data": {"name": "neg"},
 "mark": {"type": "point", "filled": true, "size": 36, "strokeWidth": 1, "opacity": 1},
 "encoding": {
  "x": {"field": "x", "type": "quantitative"},
  "y": {"field": "y", "type": "quantitative"},
  "fill": {"datum": "Neg [-0(Mean), 1.12(SD)]", "type": "nominal"},
  "stroke": {"datum": "Neg [-0(Mean), 1.12(SD)]", "type": "nominal"},
  "shape": {"datum": "Neg [-0(Mean), 1.12(SD)]", "type": "nominal"}
 }},
{"data": {"name": "sd"},
 "mark": {"type": "rule", "strokeWidth": 3},
 "encoding": {
  "y": {"field": "y", "type": "quantitative"},
  "stroke": {"datum": "3SD", "type": "nominal"}
 }}
]},
{"data": {"name": "z"},
 "mark": {"type": "line", "interpolate": "step-after", "strokeWidth": 2},
 "encoding": {
  "x": {"field": "x", "type": "quantitative"},
  "y": {"field": "z", "type": "quantitative", "scale": {"domain": [-1, 1], "nice": false, "zero": false},
        "axis": {"orient": "right", "title": null, "values": [-1,-0.9,-0.8,-0.7,-0.6,-0.5,-0.4,-0.3,-0.2,-0.1,0,0.1,0.2,0.3,0.4,0.5,0.6,0.7,0.8,0.9,1],
                 "labelExpr": "abs(round(datum.value*10)) % 5 === 0 ? format(datum.value, '.1f') : ''", "labelOverlap": false,
                 "grid": false, "tickSize": -6, "tickColor": "#a020f0", "domainColor": "#a020f0", "domainWidth": 2, "labelPadding": 16,
                 "labelFont": "DejaVu Sans Mono", "labelFontSize": 16, "labelColor": "#a030f0"}},
  "stroke": {"datum": "Z", "type": "nominal"}
 }}
],
"resolve": {"scale": {"y": "independent"}}
}
